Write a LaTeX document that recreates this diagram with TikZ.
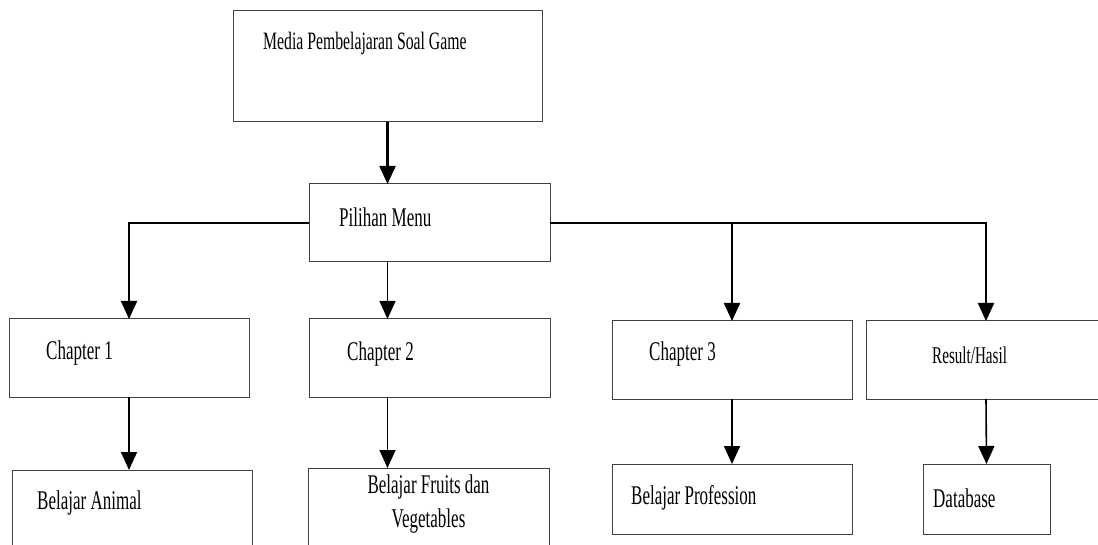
\documentclass[tikz,border=0pt]{standalone}
\usepackage{fontspec}
\newfontfamily\boxfont{Liberation Serif}[FakeStretch=0.63]
\usetikzlibrary{arrows.meta,calc}

\begin{document}
\begin{tikzpicture}[x=1bp,y=-1bp,>={Triangle[length=18bp,width=16bp]},
  box/.style={draw=black!75,line width=1bp,inner sep=0pt,outer sep=0pt,
    anchor=north west,minimum width=240bp,minimum height=78bp},
  txt/.style={anchor=west,inner sep=0pt,
    font=\boxfont\fontsize{27bp}{34bp}\selectfont},
  link/.style={->,line width=2.2bp},
  slimlink/.style={->,line width=1.6bp}]
  \useasboundingbox (0,0) rectangle (1098,545);
  \clip (0,0) rectangle (1098,545);

  % The two top boxes.
  \node[box,minimum width=309bp,minimum height=111bp] (media) at (233,11) {};
  \node[box,minimum width=241bp] (menu) at (309,184) {};
  \node[txt,font=\boxfont\fontsize{25bp}{30bp}\selectfont] (mediaT)
    at ($(media.north west)+(30,32)$) {Media Pembelajaran Soal Game};
  \node[txt] (menuT) at ($(menu.north west)+(30,33)$) {Pilihan Menu};

  % The chapter row.
  \node[box] (ch1) at (9,319) {};
  \node[box,minimum width=241bp] (ch2) at (309,319) {};
  \node[box] (ch3) at (612,321) {};
  \node[box] (result) at (866,321) {};
  \node[txt] (ch1T) at ($(ch1.north west)+(37,34)$) {Chapter 1};
  \node[txt] (ch2T) at ($(ch2.north west)+(38,35)$) {Chapter 2};
  \node[txt] (ch3T) at ($(ch3.north west)+(37,33)$) {Chapter 3};
  \node[txt,font=\boxfont\fontsize{24bp}{30bp}\selectfont] (resultT)
    at ($(result.north west)+(66,34)$) {Result/Hasil};

  % The bottom row, partly cut off by the page edge.
  \node[box,minimum height=90bp] (animal) at (12,470) {};
  \node[box,minimum width=241bp,minimum height=90bp] (fruits) at (308,468) {};
  \node[box,minimum height=70bp] (profession) at (612,464) {};
  \node[box,minimum width=127bp,minimum height=70bp] (database) at (923,464) {};
  \node[txt] (animalT) at ($(animal.north west)+(25,33)$) {Belajar Animal};
  \node[txt,anchor=north,align=center] (fruitsT)
    at ($(fruits.north)+(0,7)$) {Belajar Fruits dan\\Vegetables};
  \node[txt] (professionT) at ($(profession.north west)+(19,34)$) {Belajar Profession};
  \node[txt] (databaseT) at ($(database.north west)+(10,34)$) {Database};

  % Connectors.
  \draw[link] (media.south) -- (media.south |- menu.north);
  \draw[link] (menu.west) -| (ch1.north);
  \draw[slimlink] (menu.south -| media.south) -- (ch2.north -| media.south);
  \draw[link] (menu.east) -| (ch3.north);
  \draw[link] (menu.east) -| (result.north);
  \draw[slimlink] (ch1.south) -- (ch1.south |- animal.north);
  \draw[slimlink] (ch2.south -| media.south) -- (fruits.north -| media.south);
  \draw[slimlink] (ch3.south) -- (profession.north);
  \draw[slimlink] (result.south) -- (database.north);
\end{tikzpicture}
\end{document}
